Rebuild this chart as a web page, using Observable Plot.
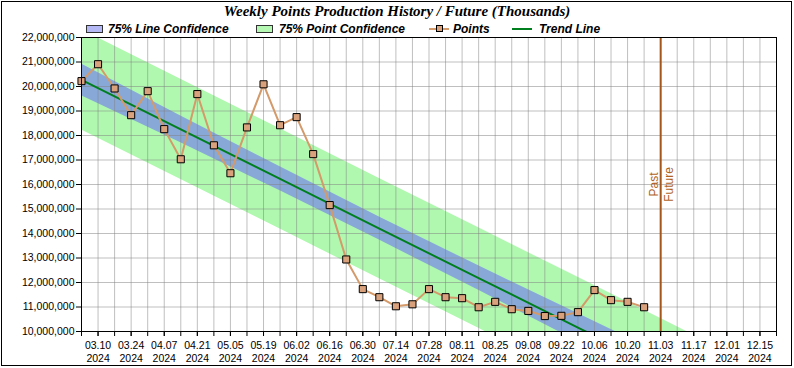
<!DOCTYPE html>
<html><head><meta charset="utf-8">
<script src="https://cdn.jsdelivr.net/npm/d3@7"></script>
<script src="https://cdn.jsdelivr.net/npm/@observablehq/plot@0.6"></script>
<style>
body{margin:0;background:#fff;width:794px;height:368px;overflow:hidden;position:relative}
#border{position:absolute;left:1px;top:1px;width:791px;height:365px;box-sizing:border-box;border:1px solid #000}
#title{position:absolute;left:0;top:3px;width:794px;text-align:center;line-height:18px;font:italic bold 15px "Liberation Serif","Times New Roman",serif}
#legend{position:absolute;left:0;top:18px}
#chart{position:absolute;left:0;top:30px}
</style></head><body>
<div id="border"></div>
<div id="title">Weekly Points Production History / Future (Thousands)</div>
<svg id="legend" width="794" height="20"></svg>
<div id="chart"></div>
<script>
// ---- data ----
const pointDates = ["2024-03-03","2024-03-10","2024-03-17","2024-03-24","2024-03-31","2024-04-07","2024-04-14","2024-04-21","2024-04-28","2024-05-05","2024-05-12","2024-05-19","2024-05-26","2024-06-02","2024-06-09","2024-06-16","2024-06-23","2024-06-30","2024-07-07","2024-07-14","2024-07-21","2024-07-28","2024-08-04","2024-08-11","2024-08-18","2024-08-25","2024-09-01","2024-09-08","2024-09-15","2024-09-22","2024-09-29","2024-10-06","2024-10-13","2024-10-20","2024-10-27"];
const pointValues = [20.22,20.91,19.92,18.83,19.81,18.26,17.03,19.69,17.60,16.46,18.33,20.09,18.42,18.75,17.24,15.16,12.94,11.73,11.40,11.03,11.11,11.73,11.40,11.36,10.99,11.21,10.91,10.84,10.63,10.64,10.79,11.69,11.28,11.21,10.99];
const bandDates = ["2024-03-03","2024-04-14","2024-05-26","2024-07-07","2024-08-18","2024-09-29","2024-11-10","2024-12-22"];
const trendValues   = [20.27,18.25,16.23,14.20,12.18,10.16,8.14,6.11];
const lineConfLow   = [19.62,17.70,15.74,13.73,11.68,9.59,7.49,5.36];
const lineConfHigh  = [20.92,18.80,16.72,14.67,12.68,10.73,8.79,6.86];
const pointConfLow  = [18.22,16.20,14.18,12.15,10.13,8.11,6.09,4.06];
const pointConfHigh = [22.32,20.30,18.28,16.25,14.23,12.21,10.19,8.16];
const tickDates = ["2024-03-10","2024-03-24","2024-04-07","2024-04-21","2024-05-05","2024-05-19","2024-06-02","2024-06-16","2024-06-30","2024-07-14","2024-07-28","2024-08-11","2024-08-25","2024-09-08","2024-09-22","2024-10-06","2024-10-20","2024-11-03","2024-11-17","2024-12-01","2024-12-15"];
const yTicks = [10e6,11e6,12e6,13e6,14e6,15e6,16e6,17e6,18e6,19e6,20e6,21e6,22e6];
const pastFuture = "2024-11-03";
const legendLabels = ["75% Line Confidence","75% Point Confidence","Points","Trend Line"];

// ---- build ----
const parse = d3.utcParse("%Y-%m-%d");
const pts = pointDates.map((d,i)=>({date:parse(d), value:pointValues[i]*1e6}));
const band = bandDates.map((d,i)=>({date:parse(d), trend:trendValues[i]*1e6,
  lLo:lineConfLow[i]*1e6, lHi:lineConfHigh[i]*1e6, pLo:pointConfLow[i]*1e6, pHi:pointConfHigh[i]*1e6}));
const xDomain = [parse("2024-03-03"), parse("2024-12-22")];
const weekly = d3.utcWeek.range(xDomain[0], d3.utcDay.offset(xDomain[1],1));
const labelTicks = tickDates.map(parse);
const pf = parse(pastFuture);
const fmtTick = d => d3.utcFormat("%m.%d")(d) + "\n" + d3.utcFormat("%Y")(d);

const gridStyle = {stroke:"#808080", strokeOpacity:0.5, strokeWidth:1};
const chart = Plot.plot({
  width:794, height:336, marginTop:7, marginBottom:35, marginLeft:81, marginRight:18,
  style:{fontFamily:"'Liberation Sans', Arial, sans-serif", fontSize:"10.5px", color:"#000", background:"transparent"},
  x:{type:"utc", domain:xDomain},
  y:{domain:[10e6,22e6]},
  marks:[
    Plot.areaY(band,{x:"date", y1:"pLo", y2:"pHi", fill:"#b0f8b0", clip:true}),
    Plot.areaY(band,{x:"date", y1:"lLo", y2:"lHi", fill:"#88a9d8", clip:true}),
    Plot.gridX(weekly, gridStyle),
    Plot.gridY(yTicks, gridStyle),
    Plot.line(band,{x:"date", y:"trend", stroke:"#007f1f", strokeWidth:2, clip:true}),
    Plot.line(pts,{x:"date", y:"value", stroke:"#d49a6a", strokeWidth:2}),
    Plot.dot(pts,{x:"date", y:"value", symbol:"square", r:4, fill:"#d9a27c", stroke:"#000", strokeWidth:1}),
    Plot.ruleX([pf],{stroke:"#a5561a", strokeWidth:2}),
    Plot.text([{d:pf, t:"Past"}],{x:"d", text:"t", frameAnchor:"middle", rotate:-90, dx:-7, fill:"#b0621e", fontSize:12}),
    Plot.text([{d:pf, t:"Future"}],{x:"d", text:"t", frameAnchor:"middle", rotate:-90, dx:8, fill:"#b0621e", fontSize:12}),
    Plot.frame({stroke:"#000"}),
    Plot.axisY(yTicks,{tickFormat:d3.format(","), tickSize:5, tickPadding:2, label:null}),
    Plot.axisX(weekly,{tickFormat:()=>"", tickSize:5, label:null}),
    Plot.axisX(labelTicks,{tickFormat:fmtTick, tickSize:5, tickPadding:3, lineHeight:1.24, label:null})
  ]
});
document.getElementById("chart").appendChild(chart);

// ---- legend ----
const lg = d3.select("#legend");
const font = "italic bold 12px 'Liberation Sans',Arial,sans-serif";
const items = [
  {x:86, tx:108, kind:"box", fill:"#b4b8f4"},
  {x:256, tx:279, kind:"box", fill:"#b4f8b4"},
  {x:429, tx:453, kind:"pts"},
  {x:512, tx:539, kind:"trend"}
];
items.forEach((it,i)=>{
  if (it.kind==="box") {
    lg.append("rect").attr("x",it.x+0.5).attr("y",7.5).attr("width",16).attr("height",7)
      .attr("fill",it.fill).attr("stroke","#333");
  } else if (it.kind==="pts") {
    lg.append("line").attr("x1",it.x).attr("x2",it.x+20).attr("y1",11).attr("y2",11).attr("stroke","#d49a6a").attr("stroke-width",2);
    lg.append("rect").attr("x",it.x+7.5).attr("y",7.5).attr("width",6).attr("height",6).attr("fill","#d9a27c").attr("stroke","#000");
  } else {
    lg.append("line").attr("x1",it.x).attr("x2",it.x+20).attr("y1",11).attr("y2",11).attr("stroke","#007f1f").attr("stroke-width",2);
  }
  lg.append("text").attr("x", it.tx).attr("y",11).attr("dominant-baseline","central")
    .style("font",font).text(legendLabels[i]);
});
</script>
</body></html>
